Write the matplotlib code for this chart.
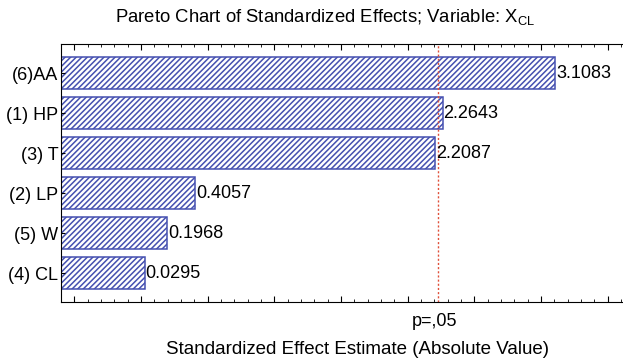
import numpy as np
import matplotlib.pyplot as plt
from matplotlib.ticker import MultipleLocator

# Efectos estandarizados (valor absoluto)
factores = ['(6)AA', '(1) HP', '(3) T', '(2) LP', '(5) W', '(4) CL']
efectos = [3.1083, 2.2643, 2.2087, 0.4057, 0.1968, 0.0295]
p_critico = 2.228

plt.rcParams['font.family'] = ['Liberation Sans', 'DejaVu Sans']
plt.rcParams['hatch.color'] = '#4550b0'
plt.rcParams['hatch.linewidth'] = 1.1

fig = plt.figure(figsize=(6.23, 3.61), dpi=100)
ax = fig.add_axes([61 / 623, 1 - 302 / 361, (623 - 61) / 623, (302 - 44) / 361])

x0 = -0.6
y = np.arange(len(factores))
ax.barh(y, np.array(efectos) - x0, left=x0, height=0.8, color='white',
        edgecolor='#4550b0', hatch='//////', linewidth=1.1)

for yi, v in zip(y, efectos):
    ax.text(v + 0.005, yi, f'{v:.4f}', va='center', ha='left', fontsize=13)

ax.axvline(p_critico, color='#e0503a', linestyle=(0, (1.5, 1.5)), linewidth=1)

ax.set_xlim(x0, 3.615)
ax.set_ylim(len(factores) - 0.275, -0.725)
ax.set_yticks(y)
ax.set_yticklabels(factores, fontsize=13)
ax.xaxis.set_major_locator(MultipleLocator(0.5))
ax.xaxis.set_minor_locator(MultipleLocator(0.1))
ax.tick_params(axis='x', which='both', direction='in', top=True, bottom=True,
               labelbottom=False)
ax.tick_params(axis='x', which='major', length=4)
ax.tick_params(axis='x', which='minor', length=2)
ax.tick_params(axis='y', direction='in', length=3, pad=2)
ax.spines['right'].set_visible(False)

fig.text(435 / 623, 1 - 321 / 361, 'p=,05', ha='center', va='center', fontsize=13)
fig.text(357 / 623, 1 - 349 / 361, 'Standardized Effect Estimate (Absolute Value)',
         ha='center', va='center', fontsize=13.5)
fig.text(325 / 623, 1 - 17 / 361,
         'Pareto Chart of Standardized Effects; Variable: X$_{\\mathregular{CL}}$',
         ha='center', va='center', fontsize=13.3)

plt.savefig('out.png', dpi=100)
